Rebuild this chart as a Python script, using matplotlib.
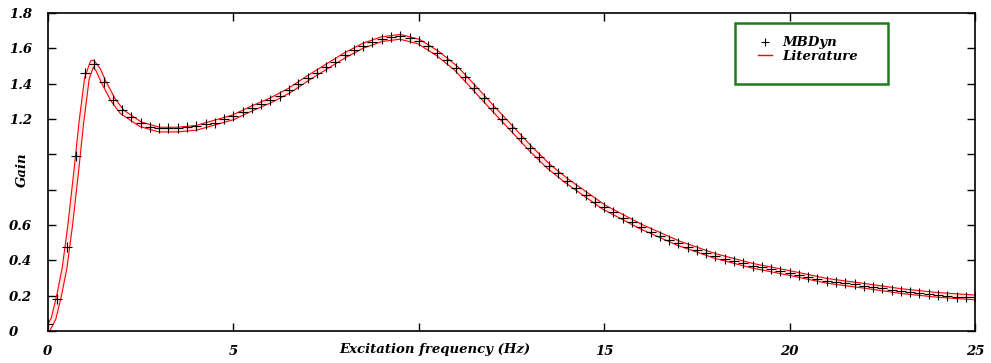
import matplotlib
matplotlib.use("Agg")
import matplotlib.pyplot as plt
import matplotlib.patheffects as pe
from matplotlib.lines import Line2D
from matplotlib.patches import Rectangle
import numpy as np

# MBDyn results, sampled every 0.25 Hz
mbdyn_freq = np.arange(0, 25.01, 0.25)
mbdyn_gain = [
    0.04, 0.18, 0.475, 0.99, 1.46, 1.51, 1.41, 1.31, 1.25, 1.21,
    1.175, 1.155, 1.15, 1.15, 1.15, 1.152, 1.16, 1.17, 1.18, 1.198,
    1.215, 1.24, 1.262, 1.285, 1.307, 1.33, 1.364, 1.398, 1.432, 1.462,
    1.497, 1.525, 1.562, 1.59, 1.615, 1.636, 1.655, 1.665, 1.668, 1.66,
    1.64, 1.612, 1.575, 1.535, 1.49, 1.435, 1.375, 1.318, 1.262, 1.2,
    1.15, 1.092, 1.036, 0.985, 0.934, 0.893, 0.849, 0.808, 0.77, 0.73,
    0.70, 0.672, 0.641, 0.617, 0.59, 0.562, 0.538, 0.516, 0.498, 0.476,
    0.458, 0.441, 0.424, 0.408, 0.396, 0.385, 0.369, 0.362, 0.351, 0.340,
    0.328, 0.317, 0.306, 0.295, 0.284, 0.277, 0.271, 0.265, 0.256, 0.249,
    0.243, 0.233, 0.226, 0.221, 0.215, 0.209, 0.204, 0.198, 0.193, 0.192,
    0.19,
]

lit_freq = [0.0, 0.15, 0.3, 0.45, 0.6, 0.75, 0.9, 1.05, 1.2, 1.35, 1.5, 1.75,
            2.0, 2.5, 3.0, 3.5, 4.0, 4.5, 5.0, 5.5, 6.0, 6.5, 7.0, 7.5,
            8.0, 8.5, 9.0, 9.5, 10.0, 10.5, 11.0, 11.5, 12.0, 12.5, 13.0,
            13.5, 14.0, 15.0, 16.0, 17.0, 18.0, 19.0, 20.0, 21.0, 22.0,
            23.0, 24.0, 25.0]
lit_gain = [0.01, 0.07, 0.2, 0.36, 0.6, 0.88, 1.18, 1.43, 1.52, 1.48, 1.41, 1.31,
            1.24, 1.17, 1.14, 1.14, 1.15, 1.18, 1.21, 1.26, 1.305, 1.36, 1.43, 1.495,
            1.56, 1.615, 1.652, 1.665, 1.638, 1.572, 1.488, 1.375, 1.26, 1.148, 1.035,
            0.932, 0.848, 0.70, 0.59, 0.497, 0.424, 0.369, 0.328, 0.284, 0.256,
            0.226, 0.204, 0.19]

x_ticks = [0, 5, 10, 15, 20, 25]
x_ticklabels = ["0", "5", "", "15", "20", "25"]
y_ticks = [0, 0.2, 0.4, 0.6, 0.8, 1.0, 1.2, 1.4, 1.6, 1.8]
y_ticklabels = ["0", "0.2", "0.4", "0.6", "", "", "1.2", "1.4", "1.6", "1.8"]

font = dict(family="DejaVu Serif", weight="bold", style="italic", size=9.5)

fig = plt.figure(figsize=(9.91, 3.63), dpi=100)
ax = fig.add_axes([0.0484, 0.0882, 0.9355, 0.876])

ax.plot(lit_freq, lit_gain, color="red", lw=2.6,
        path_effects=[pe.Stroke(linewidth=4.2, foreground="red"),
                      pe.Stroke(linewidth=2.6, foreground="#fde6e6")])
ax.plot(mbdyn_freq, mbdyn_gain, ls="none", marker="+", color="black",
        markersize=6.5, markeredgewidth=0.8)

ax.set_xlim(0, 25)
ax.set_ylim(0, 1.8)
ax.set_xticks(x_ticks)
ax.set_xticklabels(x_ticklabels, fontdict=font)
ax.set_yticks(y_ticks)
ax.set_yticklabels(y_ticklabels, fontdict=font)
for lab in ax.get_yticklabels():
    lab.set_horizontalalignment("left")
ax.tick_params(direction="in", top=True, right=True, length=6, width=1)
ax.tick_params(axis="y", pad=28)
ax.tick_params(axis="x", pad=10)
for sp in ax.spines.values():
    sp.set_linewidth(1.2)

ax.set_xlabel("Excitation frequency (Hz)", fontdict=font)
ax.xaxis.set_label_coords(0.417, -0.038)
ax.set_ylabel("Gain", fontdict=font)
ax.yaxis.set_label_coords(-0.0205, 0.506)

# legend with green frame
ax.add_patch(Rectangle((0.741, 0.777), 0.165, 0.192, transform=ax.transAxes,
                       fill=False, edgecolor="#1f7a1f", lw=1.8, zorder=5))
handles = [Line2D([], [], ls="none", marker="+", color="black", markersize=6, markeredgewidth=0.8),
           Line2D([], [], color="red", lw=1)]
ax.legend(handles, ["MBDyn", "Literature"], loc="center",
          bbox_to_anchor=(0.82, 0.885), frameon=False, handlelength=1.0,
          handletextpad=0.8, labelspacing=0.05,
          prop=dict(family="DejaVu Serif", weight="bold", style="italic", size=9.5))

fig.savefig("out.png", dpi=100)
